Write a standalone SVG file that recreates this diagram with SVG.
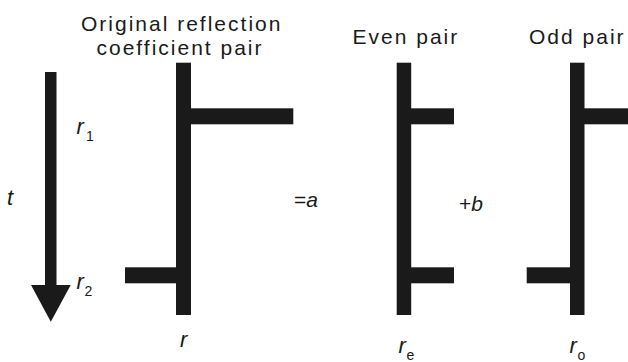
<svg xmlns="http://www.w3.org/2000/svg" width="628" height="362" viewBox="0 0 628 362">
<style>
  .bar { fill: #1a1a1a; }
  .title { font-family: "Liberation Sans", Arial, sans-serif; font-size: 21px; letter-spacing: 2px; fill: #1a1a1a; }
  .var { font-family: "Liberation Sans", Arial, sans-serif; font-size: 22px; font-style: italic; fill: #1a1a1a; }
  .sub { font-family: "Liberation Sans", Arial, sans-serif; font-size: 14px; fill: #1a1a1a; }
  .op { font-family: "Liberation Sans", Arial, sans-serif; font-size: 21px; fill: #1a1a1a; }
</style>
<rect width="628" height="362" fill="#ffffff"/>

<g id="time-arrow">
  <rect class="bar" x="45" y="72" width="11.5" height="214"/>
  <polygon class="bar" points="31,285 70.7,285 50.8,321.7"/>
  <text class="var" x="7" y="205">t</text>
  <text class="var" x="76.5" y="133.5">r</text><text class="sub" x="86" y="140.7">1</text>
  <text class="var" x="76.5" y="288.5">r</text><text class="sub" x="84.5" y="296">2</text>
</g>

<g id="original-pair">
  <text class="title" x="81" y="31">Original reflection</text>
  <text class="title" x="96.5" y="54.5">coefficient pair</text>
  <rect class="bar" x="176" y="62.7" width="15" height="252.3"/>
  <rect class="bar" x="191" y="108.3" width="102.3" height="16"/>
  <rect class="bar" x="125" y="267.3" width="51" height="16"/>
  <text class="var" x="180" y="347">r</text>
</g>

<g id="op-a">
  <text class="op" x="294" y="206.5">=<tspan font-style="italic">a</tspan></text>
</g>

<g id="even-pair">
  <text class="title" x="352.5" y="44">Even pair</text>
  <rect class="bar" x="396.7" y="62.7" width="14.5" height="252.3"/>
  <rect class="bar" x="411" y="108.3" width="43" height="16"/>
  <rect class="bar" x="411" y="267.3" width="43" height="16"/>
  <text class="var" x="398.5" y="353">r</text><text class="sub" x="406.5" y="359.5">e</text>
</g>

<g id="op-b">
  <text class="op" x="459" y="210.7">+<tspan font-style="italic">b</tspan></text>
</g>

<g id="odd-pair">
  <text class="title" x="529" y="44">Odd pair</text>
  <rect class="bar" x="570" y="62.7" width="14.5" height="252.3"/>
  <rect class="bar" x="584" y="108.3" width="44" height="16"/>
  <rect class="bar" x="526.7" y="267.3" width="43.5" height="16"/>
  <text class="var" x="569.5" y="353">r</text><text class="sub" x="577.5" y="359.5">o</text>
</g>

<g id="connectors"></g>
</svg>
